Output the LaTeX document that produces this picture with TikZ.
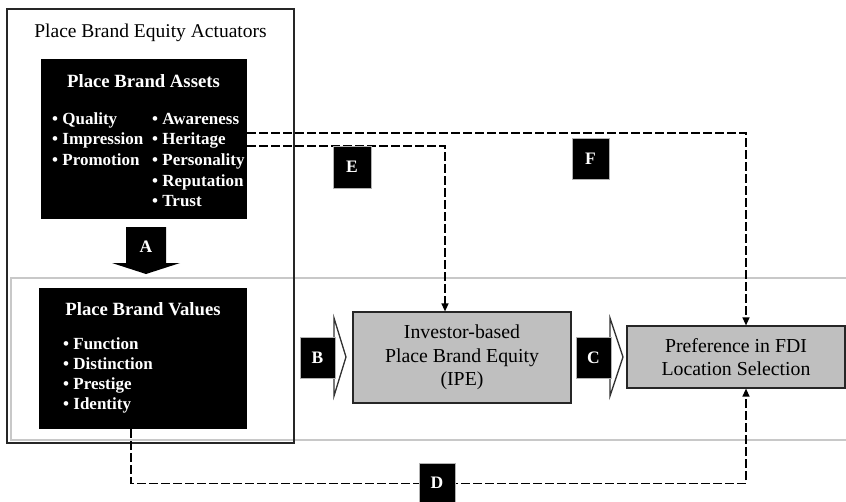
\documentclass[tikz,border=0pt]{standalone}
\usepackage{fontspec}
\setmainfont{Liberation Serif}
\usetikzlibrary{arrows.meta}
\definecolor{boxgrey}{RGB}{191,191,191}
\definecolor{bandgrey}{RGB}{200,200,200}
\begin{document}
\begin{tikzpicture}[x=1pt,y=-1pt,
  blackbox/.style={fill=black, draw=none, inner sep=0pt},
  greybox/.style={fill=boxgrey, draw=black!85, line width=1.2pt, inner sep=0pt,
    align=center, font=\fontsize{19.8}{23.5}\selectfont},
  tag/.style={fill=black, draw=gray!60, line width=0.4pt, inner sep=0pt,
    text=white, font=\bfseries\fontsize{17.5}{18}\selectfont},
  item/.style={anchor=base west, inner sep=0pt, text=white,
    font=\bfseries\fontsize{17}{20}\selectfont},
  head/.style={anchor=base, inner sep=0pt, text=white,
    font=\bfseries\fontsize{18.7}{22}\selectfont},
  link/.style={draw=black, line width=1.3pt, dash pattern=on 9pt off 3pt,
    -{Triangle[length=8pt,width=7pt]}},
  chev/.style={fill=white, draw=gray!40!black, line width=1.3pt, line join=miter},
  band/.style={draw=bandgrey, line width=1.6pt}
]
\useasboundingbox (0,0) rectangle (846,501);

% light band behind the lower row
\draw[band] (852,278) -- (11,278) -- (11,440) -- (852,440);

% actuators frame
\draw[black!85, line width=1.2pt] (7,9) rectangle (294,443);
\node[anchor=base, inner sep=0pt, font=\fontsize{19.5}{22}\selectfont] (title) at (150.5,37)
  {Place Brand Equity Actuators};

% assets
\node[blackbox, minimum width=206pt, minimum height=160pt] (assets) at (144,139) {};
\node[head] (assetsHead) at (143.5,87.5) {Place Brand Assets};
\node[item] (a1) at (52,124)   {• Quality};
\node[item] (a2) at (52,144.7) {• Impression};
\node[item] (a3) at (52,165.4) {• Promotion};
\node[item] (a4) at (152,124)   {• Awareness};
\node[item] (a5) at (152,144.7) {• Heritage};
\node[item] (a6) at (152,165.4) {• Personality};
\node[item] (a7) at (152,186.1) {• Reputation};
\node[item] (a8) at (152,206.8) {• Trust};

% downward block arrow A
\fill[black] (126,227) -- (166,227) -- (166,263) -- (180,263) -- (146,274)
  -- (112,263) -- (126,263) -- cycle;
\node[inner sep=0pt, text=white, font=\bfseries\fontsize{17.5}{18}\selectfont] (tagA) at (146,247) {A};

% values
\node[blackbox, minimum width=208pt, minimum height=141pt] (values) at (143,358.5) {};
\node[head] (valuesHead) at (143,315) {Place Brand Values};
\node[item] (v1) at (63,349) {• Function};
\node[item] (v2) at (63,369) {• Distinction};
\node[item] (v3) at (63,389) {• Prestige};
\node[item] (v4) at (63,409) {• Identity};

% outcome boxes
\node[greybox, minimum width=218pt, minimum height=91pt] (ipe) at (462,357.5)
  {Investor-based\\Place Brand Equity\\(IPE)};
\node[greybox, minimum width=218pt, minimum height=62pt] (pref) at (736,357)
  {Preference in FDI\\Location Selection};

% chevrons B and C
\draw[chev] (334,318) -- (346,357) -- (334,396) -- cycle;
\node[tag, minimum width=35pt, minimum height=41pt] (tagB) at (317.5,357.5) {B};
\draw[chev] (610,318) -- (623,357) -- (610,396) -- cycle;
\node[tag, minimum width=35pt, minimum height=41pt] (tagC) at (593.5,357.5) {C};

% dashed links
\coordinate (fStart) at (247,133);
\coordinate (eStart) at (247,146);
\draw[link] (fStart) -| ([xshift=10pt]pref.north);
\draw[link] (eStart) -| ([xshift=-17pt]ipe.north);
\draw[link] ([xshift=-12pt]values.south) -- ++(0,54) -| ([xshift=10pt]pref.south);

% link tags
\node[tag, minimum width=38pt, minimum height=42pt] (tagE) at (352,167) {E};
\node[tag, minimum width=37pt, minimum height=41pt] (tagF) at (590.5,158.5) {F};
\node[tag, minimum width=36pt, minimum height=40pt] (tagD) at (437,483) {D};
\end{tikzpicture}
\end{document}
